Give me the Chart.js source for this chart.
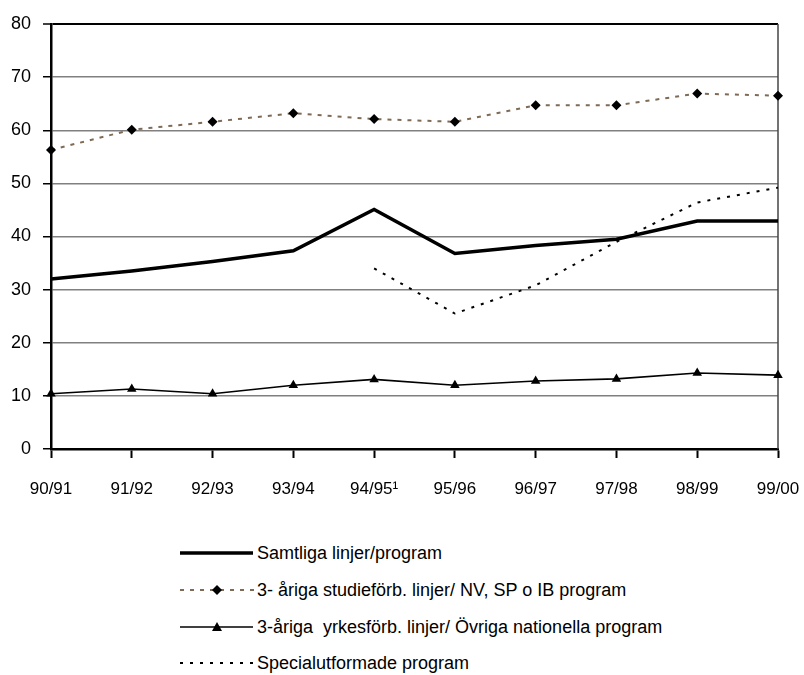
<!DOCTYPE html>
<html>
<head>
<meta charset="utf-8">
<script src="https://cdn.jsdelivr.net/npm/chart.js@4/dist/chart.umd.min.js"></script>
<style>
  body { margin: 0; background: #fff; width: 804px; height: 675px; overflow: hidden;
         font-family: "Liberation Sans", Arial, sans-serif; }
  #wrap { position: absolute; left: 0; top: 0; width: 804px; height: 510px; }
  .row { position: absolute; left: 180px; height: 30px; display: flex; align-items: center;
         font-size: 18px; color: #000; white-space: nowrap; }
  .row svg { width: 74px; height: 30px; margin-right: 3px; }
</style>
</head>
<body>
<div id="wrap"><canvas id="chart"></canvas></div>

<div class="row" style="top:538px">
  <svg viewBox="0 0 74 30"><line x1="0" y1="15" x2="73" y2="15" stroke="#000" stroke-width="3.5"/></svg>
  Samtliga linjer/program
</div>
<div class="row" style="top:575px">
  <svg viewBox="0 0 74 30"><line x1="0" y1="15" x2="74" y2="15" stroke="#7f6a55" stroke-width="2" stroke-dasharray="4 6"/>
    <polygon points="37,10 42,15 37,20 32,15" fill="#000"/></svg>
  3- åriga studieförb. linjer/ NV, SP o IB program
</div>
<div class="row" style="top:612px">
  <svg viewBox="0 0 74 30"><line x1="0" y1="15" x2="73" y2="15" stroke="#000" stroke-width="1.6"/>
    <polygon points="37,10 42,19 32,19" fill="#000"/></svg>
  3-åriga&nbsp; yrkesförb. linjer/ Övriga nationella program
</div>
<div class="row" style="top:648px">
  <svg viewBox="0 0 74 30"><line x1="0" y1="15" x2="74" y2="15" stroke="#000" stroke-width="2" stroke-dasharray="3 7"/></svg>
  Specialutformade program
</div>

<script>
const years = ['90/91', '91/92', '92/93', '93/94', '94/95\u00b9', '95/96', '96/97', '97/98', '98/99', '99/00'];
const samtliga = [32.0, 33.5, 35.3, 37.3, 45.1, 36.8, 38.3, 39.5, 42.9, 42.9];
const studieforb = [56.3, 60.1, 61.6, 63.2, 62.1, 61.6, 64.7, 64.7, 66.9, 66.5];
const yrkesforb = [10.4, 11.3, 10.4, 12.0, 13.1, 12.0, 12.8, 13.2, 14.3, 13.9];
const special = [null, null, null, null, 34.0, 25.5, 30.8, 39.0, 46.4, 49.2];
const yTicks = [0, 10, 20, 30, 40, 50, 60, 70, 80];

const fontFam = '"Liberation Sans", Arial, sans-serif';

const frame = {
  id: 'frame',
  beforeDatasetsDraw(chart) {
    const a = chart.chartArea, c = chart.ctx;
    c.save();
    c.strokeStyle = '#444';
    c.lineWidth = 1.5;
    c.beginPath();
    c.moveTo(a.right, a.top);
    c.lineTo(a.right, a.bottom);
    c.stroke();
    c.restore();
  }
};

new Chart(document.getElementById('chart'), {
  type: 'line',
  data: {
    labels: years,
    datasets: [
      { label: 'Samtliga linjer/program', data: samtliga, borderColor: '#000', borderWidth: 3.5,
        pointRadius: 0, tension: 0 },
      { label: '3- åriga studieförb. linjer/ NV, SP o IB program', data: studieforb,
        borderColor: '#7f6a55', borderWidth: 2, borderDash: [4, 6],
        pointStyle: 'rectRot', pointRadius: 5, pointBackgroundColor: '#000', pointBorderColor: '#000', pointBorderWidth: 0 },
      { label: '3-åriga yrkesförb. linjer/ Övriga nationella program', data: yrkesforb,
        borderColor: '#000', borderWidth: 1.6,
        pointStyle: 'triangle', pointRadius: 5.5, pointBackgroundColor: '#000', pointBorderColor: '#000', pointBorderWidth: 0 },
      { label: 'Specialutformade program', data: special, borderColor: '#000', borderWidth: 2,
        borderDash: [3, 7], pointRadius: 0, spanGaps: false }
    ]
  },
  options: {
    responsive: true,
    maintainAspectRatio: false,
    animation: false,
    layout: { padding: { top: 24, right: 26, left: 0, bottom: 0 } },
    plugins: { legend: { display: false }, tooltip: { enabled: false } },
    scales: {
      x: {
        offset: false,
        grid: { drawOnChartArea: false, tickLength: 9, tickColor: '#000', tickWidth: 2 },
        border: { color: '#000', width: 2.5 },
        ticks: { color: '#000', font: { family: fontFam, size: 17 }, padding: 21, maxRotation: 0, autoSkip: false },
        afterFit(s) { s.height = 61; s.paddingLeft = 0; s.paddingRight = 0; }
      },
      y: {
        min: 0, max: 80,
        afterBuildTicks(s) { s.ticks = yTicks.map(v => ({ value: v })); },
        grid: {
          color: c => c.tick && c.tick.value === 80 ? '#000' : '#808080',
          lineWidth: c => c.tick && c.tick.value === 80 ? 2 : 1.5,
          tickLength: 8, tickColor: '#000', tickWidth: 1.5
        },
        border: { color: '#000', width: 2.5 },
        ticks: { color: '#000', font: { family: fontFam, size: 18 }, padding: 12 },
        afterFit(s) { s.width = 51; }
      }
    }
  },
  plugins: [frame]
});
</script>
</body>
</html>
